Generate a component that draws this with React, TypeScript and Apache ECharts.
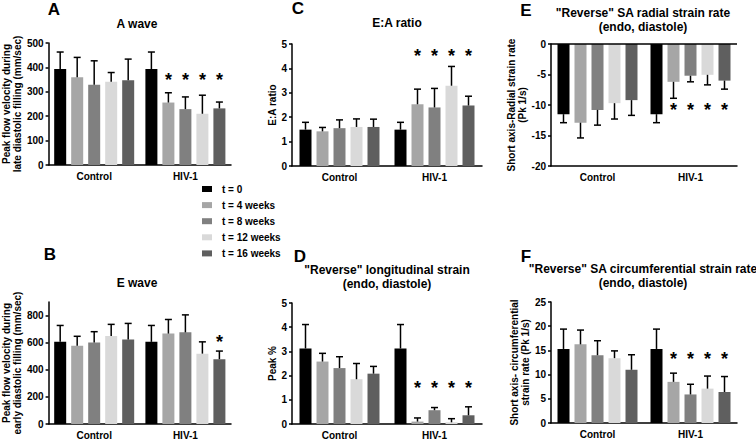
import React, { useEffect, useRef } from 'react';
import * as echarts from 'echarts';

const FONT = '"Liberation Sans", Arial, Helvetica, sans-serif';

const categories = ['Control', 'HIV-1'];
const timepoints = ['t = 0', 't = 4 weeks', 't = 8 weeks', 't = 12 weeks', 't = 16 weeks'];
const barColors = ['#000000', '#a6a6a6', '#808080', '#d9d9d9', '#5f5f5f'];

// A: A wave (mm/sec)
const aWaveControl = [393, 360, 329, 341, 347];
const aWaveControlSd = [70, 81, 98, 38, 87];
const aWaveHiv = [393, 256, 229, 210, 232];
const aWaveHivSd = [70, 40, 50, 76, 26];
const aWaveStarLevel = 365;

// B: E wave (mm/sec)
const eWaveControl = [606, 577, 601, 650, 623];
const eWaveControlSd = [121, 70, 80, 85, 119];
const eWaveHiv = [606, 667, 676, 519, 478];
const eWaveHivSd = [121, 104, 129, 87, 60];
const eWaveStarLevel = 635;

// C: E:A ratio
const eaRatioControl = [1.49, 1.42, 1.55, 1.6, 1.6];
const eaRatioControlSd = [0.3, 0.16, 0.34, 0.33, 0.32];
const eaRatioHiv = [1.49, 2.53, 2.4, 3.29, 2.48];
const eaRatioHivSd = [0.3, 0.62, 0.78, 0.79, 0.38];
const eaRatioStarLevel = 4.67;

// D: "Reverse" longitudinal strain (Peak %)
const longStrainControl = [3.12, 2.58, 2.31, 1.85, 2.08];
const longStrainControlSd = [0.99, 0.34, 0.47, 0.65, 0.3];
const longStrainHiv = [3.12, 0.1, 0.57, 0.07, 0.36];
const longStrainHivSd = [0.99, 0.15, 0.11, 0.15, 0.35];
const longStrainStarLevel = 1.67;

// E: "Reverse" SA radial strain rate (Pk 1/s)
const radialControl = [-11.5, -12.9, -10.8, -9.7, -9.2];
const radialControlSd = [1.4, 2.5, 2.5, 2.6, 2.5];
const radialHiv = [-11.5, -6.2, -5.2, -5.05, -6.0];
const radialHivSd = [1.4, 2.7, 1.0, 1.65, 1.4];
const radialStarLevel = -10.2;

// F: "Reverse" SA circumferential strain rate (Pk 1/s)
const circControl = [15.3, 16.25, 14.0, 13.4, 11.0];
const circControlSd = [4.1, 2.95, 3.0, 1.5, 3.1];
const circHiv = [15.3, 8.5, 5.9, 7.1, 6.4];
const circHivSd = [4.1, 1.8, 2.1, 2.6, 3.2];
const circStarLevel = 14.1;

// timepoints marked with a star (HIV-1 group)
const starredHiv = [false, true, true, true, true];
const starredHivEWave = [false, false, false, false, true];
const starredControl = [false, false, false, false, false];

const BAR_W = 12;
const BAR_GAP_PX = 5;

const panels = [
  {
    letter: 'A', letterPos: [54, 9], title: 'A wave', titlePos: [137, 24],
    grid: { left: 44, top: 43, width: 187, height: 122 },
    y: { min: 0, max: 500, interval: 100 },
    yName: 'Peak flow velocity during\nlate diastolic filling (mm/sec)', nameGap: 22,
    control: aWaveControl, controlSd: aWaveControlSd, hiv: aWaveHiv, hivSd: aWaveHivSd,
    stars: [starredControl, starredHiv], starLevel: aWaveStarLevel,
  },
  {
    letter: 'B', letterPos: [50, 254], title: 'E wave', titlePos: [137, 283],
    grid: { left: 44, top: 302, width: 187, height: 122 },
    y: { min: 0, max: 900, interval: 200 },
    yName: 'Peak flow velocity during\nearly diastolic filling (mm/sec)', nameGap: 21,
    control: eWaveControl, controlSd: eWaveControlSd, hiv: eWaveHiv, hivSd: eWaveHivSd,
    stars: [starredControl, starredHivEWave], starLevel: eWaveStarLevel,
  },
  {
    letter: 'C', letterPos: [298, 8], title: 'E:A ratio', titlePos: [397, 23],
    grid: { left: 292, top: 44, width: 190, height: 122 },
    y: { min: 0, max: 5, interval: 1 },
    yName: 'E:A ratio', nameGap: 6,
    control: eaRatioControl, controlSd: eaRatioControlSd, hiv: eaRatioHiv, hivSd: eaRatioHivSd,
    stars: [starredControl, starredHiv], starLevel: eaRatioStarLevel,
  },
  {
    letter: 'D', letterPos: [300, 256], title: '"Reverse" longitudinal strain\n(endo, diastole)', titlePos: [387, 276.5],
    grid: { left: 292, top: 303, width: 190, height: 121 },
    y: { min: 0, max: 5, interval: 1 },
    yName: 'Peak %', nameGap: 10,
    control: longStrainControl, controlSd: longStrainControlSd, hiv: longStrainHiv, hivSd: longStrainHivSd,
    stars: [starredControl, starredHiv], starLevel: longStrainStarLevel,
  },
  {
    letter: 'E', letterPos: [526, 10], title: '"Reverse" SA radial strain rate\n(endo, diastole)', titlePos: [643, 19.5],
    grid: { left: 551, top: 44, width: 186, height: 122 },
    y: { min: -20, max: 0, interval: 5 },
    yName: 'Short axis-Radial strain rate\n(Pk 1/s)', nameGap: 18,
    control: radialControl, controlSd: radialControlSd, hiv: radialHiv, hivSd: radialHivSd,
    stars: [starredControl, starredHiv], starLevel: radialStarLevel, zeroLine: true,
  },
  {
    letter: 'F', letterPos: [526, 256], title: '"Reverse" SA circumferential strain rate\n(endo, diastole)', titlePos: [643, 275.5],
    grid: { left: 551, top: 302, width: 186, height: 121 },
    y: { min: 0, max: 25, interval: 5 },
    yName: 'Short axis- circumferential\nstrain rate (Pk 1/s)', nameGap: 18,
    control: circControl, controlSd: circControlSd, hiv: circHiv, hivSd: circHivSd,
    stars: [starredControl, starredHiv], starLevel: circStarLevel,
  },
];

function buildOption() {
  const grids: any[] = [];
  const xAxes: any[] = [];
  const yAxes: any[] = [];
  const series: any[] = [];
  const graphics: any[] = [];
  const pitch = BAR_W + BAR_GAP_PX;
  const offsets = timepoints.map((_, i) => (i - (timepoints.length - 1) / 2) * pitch);

  panels.forEach((p, pi) => {
    grids.push({ ...p.grid });
    xAxes.push({
      type: 'category', gridIndex: pi, data: categories,
      axisLine: { onZero: false, lineStyle: { color: '#000', width: 1.5 } },
      axisTick: { alignWithLabel: true, length: 3, lineStyle: { color: '#000', width: 1.5 } },
      axisLabel: { fontSize: 10, fontWeight: 'bold', color: '#000', margin: 6, fontFamily: FONT },
      splitLine: { show: false },
    });
    yAxes.push({
      type: 'value', gridIndex: pi, min: p.y.min, max: p.y.max, interval: p.y.interval,
      axisLine: { show: true, lineStyle: { color: '#000', width: 1.5 } },
      axisTick: { show: true, length: 3, lineStyle: { color: '#000', width: 1.5 } },
      axisLabel: { fontSize: 10, fontWeight: 'bold', color: '#000', margin: 5, fontFamily: FONT, showMaxLabel: p.y.max % p.y.interval === 0 || p.y.max === 0 },
      splitLine: { show: false },
      name: p.yName, nameLocation: 'middle', nameRotate: 90, nameGap: p.nameGap,
      nameTextStyle: { fontSize: 10, fontWeight: 'bold', color: '#000', fontFamily: FONT, lineHeight: 11 },
    });
    timepoints.forEach((t, ti) => {
      const s: any = {
        type: 'bar', name: t, xAxisIndex: pi, yAxisIndex: pi,
        data: [p.control[ti], p.hiv[ti]],
        barWidth: BAR_W, barGap: (BAR_GAP_PX / BAR_W) * 100 + '%',
        itemStyle: { color: barColors[ti] },
        silent: true,
      };
      if (p.zeroLine && ti === 0) {
        s.markLine = {
          silent: true, symbol: 'none', label: { show: false },
          lineStyle: { color: '#000', width: 1.5, type: 'solid' },
          data: [{ yAxis: 0 }],
        };
      }
      series.push(s);
    });
    const errData: number[][] = [];
    [p.control, p.hiv].forEach((vals, ci) => {
      const sds = ci === 0 ? p.controlSd : p.hivSd;
      vals.forEach((v, ti) => {
        errData.push([ci, ti, v, sds[ti], p.stars[ci][ti] ? 1 : 0]);
      });
    });
    const starLevel = p.starLevel;
    series.push({
      type: 'custom', xAxisIndex: pi, yAxisIndex: pi, z: 10, silent: true,
      encode: { x: 0, y: 2 },
      data: errData,
      renderItem: (params: any, api: any) => {
        const cat = api.value(0);
        const ti = api.value(1);
        const mean = api.value(2);
        const sd = api.value(3);
        const star = api.value(4);
        const base = api.coord([cat, mean]);
        const x = base[0] + offsets[ti];
        const endVal = mean >= 0 ? mean + sd : mean - sd;
        const end = api.coord([cat, endVal]);
        const children: any[] = [
          { type: 'line', shape: { x1: x, y1: base[1], x2: x, y2: end[1] }, style: { stroke: '#000', lineWidth: 1.5 } },
          { type: 'line', shape: { x1: x - 3.5, y1: end[1], x2: x + 3.5, y2: end[1] }, style: { stroke: '#000', lineWidth: 1.5 } },
        ];
        if (star) {
          const sp = api.coord([cat, starLevel]);
          children.push({
            type: 'text', x, y: sp[1] + 4,
            style: {
              text: '*', fill: '#000', font: `bold 18px ${FONT}`,
              textAlign: 'center', textVerticalAlign: 'middle', align: 'center', verticalAlign: 'middle',
            },
          });
        }
        return { type: 'group', children };
      },
    });

    graphics.push({
      type: 'text', x: p.letterPos[0], y: p.letterPos[1],
      style: {
        text: p.letter, fill: '#000', font: `bold 17px ${FONT}`,
        textAlign: 'center', textVerticalAlign: 'middle', align: 'center', verticalAlign: 'middle',
      },
    });
    graphics.push({
      type: 'text', x: p.titlePos[0], y: p.titlePos[1],
      style: {
        text: p.title, fill: '#000', font: `bold 12px ${FONT}`, lineHeight: 14,
        textAlign: 'center', textVerticalAlign: 'middle', align: 'center', verticalAlign: 'middle',
      },
    });
  });

  return {
    animation: false,
    backgroundColor: '#ffffff',
    textStyle: { fontFamily: FONT },
    grid: grids,
    xAxis: xAxes,
    yAxis: yAxes,
    series,
    graphic: graphics,
    legend: {
      data: timepoints, orient: 'vertical', left: 197, top: 178,
      itemWidth: 10, itemHeight: 6, itemGap: 4.1, icon: 'rect', selectedMode: false,
      textStyle: { fontSize: 10, fontWeight: 'bold', color: '#000', fontFamily: FONT, lineHeight: 12, padding: [0, 0, 0, 5] },
    },
  };
}

export default function App() {
  const ref = useRef<HTMLDivElement>(null);
  useEffect(() => {
    if (!ref.current) return;
    const chart = echarts.init(ref.current, undefined, { renderer: 'svg' });
    chart.setOption(buildOption() as any);
    return () => chart.dispose();
  }, []);
  return (
    <div
      ref={ref}
      style={{ position: 'fixed', left: 0, top: 0, width: 756, height: 440, background: '#fff' }}
    />
  );
}
